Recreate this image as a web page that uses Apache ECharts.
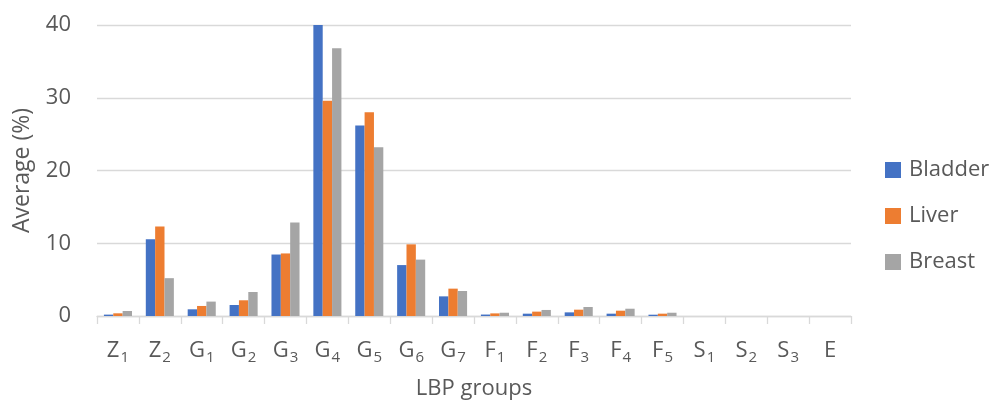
<!DOCTYPE html>
<html>
<head>
<meta charset="utf-8">
<script src="https://cdn.jsdelivr.net/npm/echarts@6/dist/echarts.min.js"></script>
<style>
  html, body { margin: 0; padding: 0; background: #fff; }
  #chart { width: 997px; height: 403px; }
</style>
</head>
<body>
<div id="chart"></div>
<script>
// LBP group labels: letter followed by an optional subscript index
const categories = ['Z1', 'Z2', 'G1', 'G2', 'G3', 'G4', 'G5', 'G6', 'G7',
  'F1', 'F2', 'F3', 'F4', 'F5', 'S1', 'S2', 'S3', 'E'];

// Average share (%) per LBP group
const bladder = [0.19, 10.55, 0.92, 1.51, 8.45, 40.0, 26.2, 7.0, 2.7,
  0.2, 0.32, 0.5, 0.32, 0.18, 0, 0, 0, 0];
const liver = [0.37, 12.3, 1.38, 2.16, 8.6, 29.6, 28.0, 9.85, 3.76,
  0.36, 0.6, 0.87, 0.73, 0.32, 0, 0, 0, 0];
const breast = [0.69, 5.2, 1.98, 3.3, 12.85, 36.8, 23.2, 7.75, 3.44,
  0.45, 0.83, 1.24, 1.0, 0.45, 0, 0, 0, 0];

const yTicks = [0, 10, 20, 30, 40];

const FONT = "'Open Sans', 'Noto Sans', sans-serif";
const TEXT = '#595959';
const GRIDLINE = '#d9d9d9';

const chart = echarts.init(document.getElementById('chart'));

function bar(name, data, color) {
  return {
    name: name,
    type: 'bar',
    data: data,
    itemStyle: { color: color },
    barGap: '0%',
    barCategoryGap: '33%'
  };
}

chart.setOption({
  animation: false,
  textStyle: { fontFamily: FONT },
  grid: { left: 97, right: 146, top: 25, bottom: 87, outerBoundsMode: 'none' },
  legend: {
    orient: 'vertical',
    left: 885,
    top: 159,
    padding: 0,
    icon: 'rect',
    itemWidth: 16,
    itemHeight: 16,
    itemGap: 24,
    textStyle: { fontFamily: FONT, fontSize: 22, color: TEXT, padding: [0, 0, 0, 3] },
    data: ['Bladder', 'Liver', 'Breast']
  },
  xAxis: {
    type: 'category',
    data: categories,
    name: 'LBP groups',
    nameLocation: 'middle',
    nameGap: 62,
    nameTextStyle: { fontFamily: FONT, fontSize: 22, color: TEXT },
    axisLine: { lineStyle: { color: GRIDLINE, width: 1.3 } },
    axisTick: { show: true, alignWithLabel: false, length: 8, lineStyle: { color: GRIDLINE, width: 1.3 } },
    axisLabel: {
      interval: 0,
      margin: 22,
      color: TEXT,
      formatter: function (v) {
        const letter = v.charAt(0);
        const sub = v.slice(1);
        return sub ? '{b|' + letter + '}{s|' + sub + '}' : '{b|' + letter + '}';
      },
      rich: {
        b: { fontFamily: FONT, fontSize: 22, color: TEXT, lineHeight: 24, verticalAlign: 'bottom' },
        s: { fontFamily: FONT, fontSize: 15, color: TEXT, lineHeight: 14, verticalAlign: 'bottom', padding: [0, 0, -3, 1] }
      }
    },
    splitLine: { show: false }
  },
  yAxis: {
    type: 'value',
    min: 0,
    max: yTicks[yTicks.length - 1],
    interval: yTicks[1] - yTicks[0],
    name: 'Average (%)',
    nameLocation: 'middle',
    nameGap: 63,
    nameTextStyle: { fontFamily: FONT, fontSize: 23, color: TEXT },
    axisLine: { show: false },
    axisTick: { show: false },
    axisLabel: { margin: 26, fontFamily: FONT, fontSize: 22, color: TEXT },
    splitLine: { lineStyle: { color: GRIDLINE, width: 1.3 } }
  },
  series: [
    bar('Bladder', bladder, '#4472C4'),
    bar('Liver', liver, '#ED7D31'),
    bar('Breast', breast, '#A5A5A5')
  ]
});
</script>
</body>
</html>
